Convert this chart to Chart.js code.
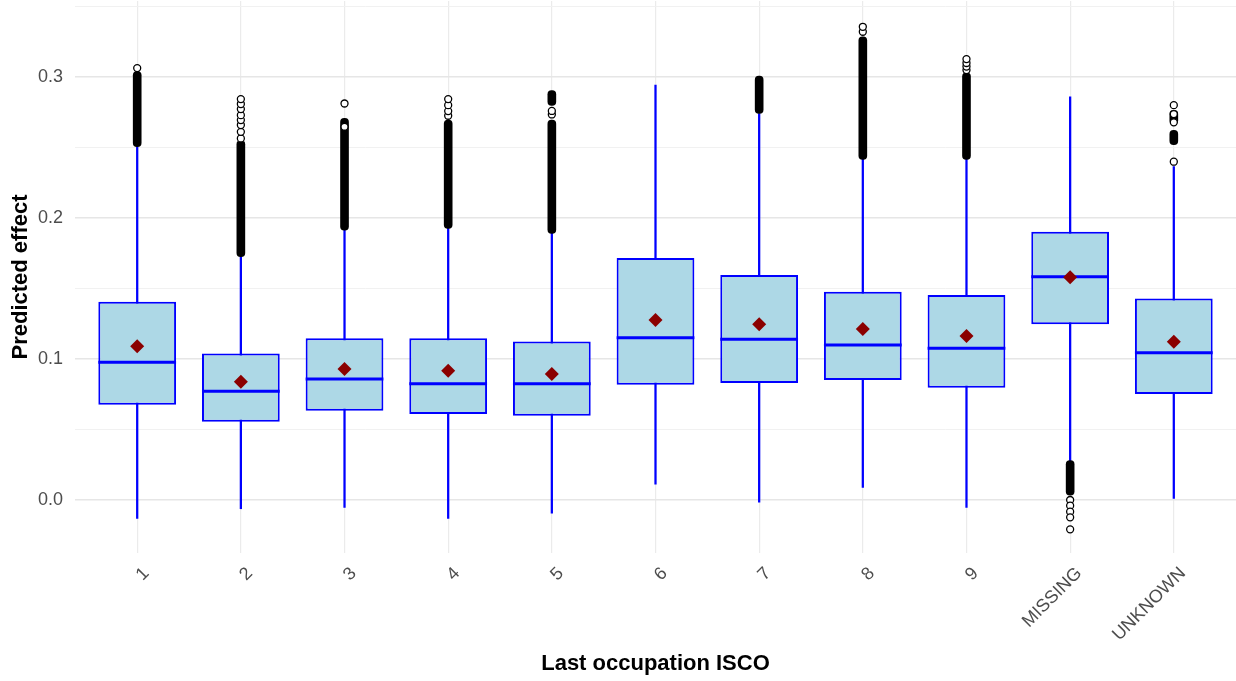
<!DOCTYPE html>
<html><head><meta charset="utf-8">
<script src="https://cdn.jsdelivr.net/npm/chart.js@4/dist/chart.umd.min.js"></script>
<style>html,body{margin:0;padding:0;background:#fff;} #wrap{width:1236px;height:681px;}</style>
</head><body><div id="wrap"><canvas id="c" width="1236" height="681"></canvas></div>
<script>
const categories = ['1','2','3','4','5','6','7','8','9','MISSING','UNKNOWN'];
const q1 = [0.0676, 0.0556, 0.0634, 0.0610, 0.0598, 0.0818, 0.0830, 0.0851, 0.0797, 0.1246, 0.0752];
const median = [0.0977, 0.0771, 0.0858, 0.0825, 0.0825, 0.1151, 0.1140, 0.1100, 0.1076, 0.1584, 0.1045];
const q3 = [0.1406, 0.1040, 0.1147, 0.1147, 0.1125, 0.1716, 0.1596, 0.1477, 0.1454, 0.1903, 0.1430];
const whiskerLow = [-0.0130, -0.0062, -0.0052, -0.0130, -0.0094, 0.0113, -0.0016, 0.0090, -0.0052, 0.0272, 0.0012];
const whiskerHigh = [0.2506, 0.1726, 0.1915, 0.1927, 0.1891, 0.2943, 0.2742, 0.2416, 0.2416, 0.2860, 0.2365];
const means = [0.1090, 0.0839, 0.0929, 0.0917, 0.0894, 0.1277, 0.1246, 0.1213, 0.1163, 0.1580, 0.1123];
// dense runs of overlapping outliers (drawn as solid columns)
const denseMain = [[0.2506,0.3040],[0.1726,0.2550],[0.1915,0.2707],[0.1927,0.2695],[0.1891,0.2695],null,[0.2742,0.3007],[0.2416,0.3286],[0.2416,0.3030],[0.0035,0.0279],[0.2520,0.2622]];
const denseExtra = [null,null,null,null,[0.2800,0.2905],null,null,null,null,null,[0.2668,0.2765]];
// individually visible outliers
const sparseOutliers = [
  [0.3064],
  [0.2565,0.2612,0.2660,0.2695,0.2730,0.2773,0.2809,0.2844],
  [0.2648,0.2813],
  [0.2726,0.2759,0.2801,0.2844],
  [0.2735,0.2760],
  [],
  [],
  [0.3322,0.3357],
  [0.3050,0.3075,0.3100,0.3128],
  [0.0000,-0.0040,-0.0083,-0.0123,-0.0208],
  [0.2400,0.2679,0.2738,0.2801]
];
const yTickValues = [0,0.05,0.1,0.15,0.2,0.25,0.3,0.35];
const yTickLabels = ['0.0','','0.1','','0.2','','0.3',''];

const FONT = '"Liberation Sans", Arial, Helvetica, sans-serif';
const xs = categories.map((c,i)=>i+1);
const BOX_INDEX = 4;

const medianPlugin = {
  id:'medians',
  afterDatasetDraw(chart,args){
    if(args.index!==BOX_INDEX) return;
    const ctx=chart.ctx, y=chart.scales.y;
    ctx.save(); ctx.strokeStyle='#0000FF'; ctx.lineWidth=3;
    args.meta.data.forEach((el,i)=>{
      const py=y.getPixelForValue(median[i]);
      ctx.beginPath(); ctx.moveTo(el.x-el.width/2,py); ctx.lineTo(el.x+el.width/2,py); ctx.stroke();
    });
    ctx.restore();
  }
};

const sparsePts = [];
sparseOutliers.forEach((arr,i)=>arr.forEach(v=>sparsePts.push({x:xs[i],y:v})));

function zeroPad(s){ s.paddingTop=0; s.paddingBottom=0; s.paddingLeft=0; s.paddingRight=0; }

new Chart(document.getElementById('c'),{
  type:'bar',
  data:{
    datasets:[
      {type:'line', label:'mean', data:xs.map((x,i)=>({x,y:means[i]})), showLine:false, order:0,
       pointStyle:'rectRot', pointRadius:7, backgroundColor:'#8B0000', borderColor:'#8B0000', borderWidth:0},
      {type:'line', label:'outliers', data:sparsePts, showLine:false, order:1,
       pointStyle:'circle', pointRadius:3.5, backgroundColor:'#ffffff', borderColor:'#000000', borderWidth:1.3},
      {label:'dense', data:xs.map((x,i)=>({x,y:denseMain[i]})), order:2, grouped:false,
       barThickness:8, backgroundColor:'#000000', borderRadius:4, borderSkipped:false},
      {label:'dense2', data:xs.map((x,i)=>({x,y:denseExtra[i]})), order:2, grouped:false,
       barThickness:8, backgroundColor:'#000000', borderRadius:4, borderSkipped:false},
      {label:'box', data:xs.map((x,i)=>({x,y:[q1[i],q3[i]]})), order:3, grouped:false,
       barPercentage:0.75, categoryPercentage:1.0, backgroundColor:'#ADD8E6', borderColor:'#0000FF', borderWidth:2, borderSkipped:false},
      {label:'whisker', data:xs.map((x,i)=>({x,y:[whiskerLow[i],whiskerHigh[i]]})), order:4, grouped:false,
       barThickness:1.6, backgroundColor:'#0000FF', borderWidth:0}
    ]
  },
  plugins:[medianPlugin],
  options:{
    responsive:false, animation:false, events:[],
    layout:{autoPadding:false, padding:{top:1,left:0,right:0,bottom:0}},
    plugins:{legend:{display:false}, tooltip:{enabled:false}},
    scales:{
      x:{type:'linear', min:0.4, max:11.6, offset:false,
        afterBuildTicks:s=>{s.ticks=xs.map(v=>({value:v}));},
        afterFit:s=>{s.height=128; zeroPad(s);},
        grid:{color:'#ebebeb', lineWidth:1.2, drawTicks:false, offset:false},
        border:{display:false},
        ticks:{autoSkip:false, maxRotation:45, minRotation:45, padding:10, labelOffset:9, color:'#4d4d4d',
          font:{family:FONT,size:18}, callback:(v,i)=>categories[i]},
        title:{display:true, text:'Last occupation ISCO', color:'#000', font:{family:FONT,size:22,weight:'bold'}, padding:{top:0,bottom:4}}
      },
      y:{min:-0.0376, max:0.354,
        afterBuildTicks:s=>{s.ticks=yTickValues.map(v=>({value:v}));},
        afterFit:s=>{s.width=75; zeroPad(s);},
        grid:{color:c=>yTickLabels[c.index]?'#e6e6e6':'#f1f1f1', lineWidth:c=>yTickLabels[c.index]?1.4:1, drawTicks:false},
        border:{display:false},
        ticks:{autoSkip:false, padding:12, color:'#4d4d4d', font:{family:FONT,size:18}, callback:(v,i)=>yTickLabels[i]},
        title:{display:true, text:'Predicted effect', color:'#000', font:{family:FONT,size:22,weight:'bold'}, padding:{top:8,bottom:0}}
      }
    }
  }
});
</script></body></html>
